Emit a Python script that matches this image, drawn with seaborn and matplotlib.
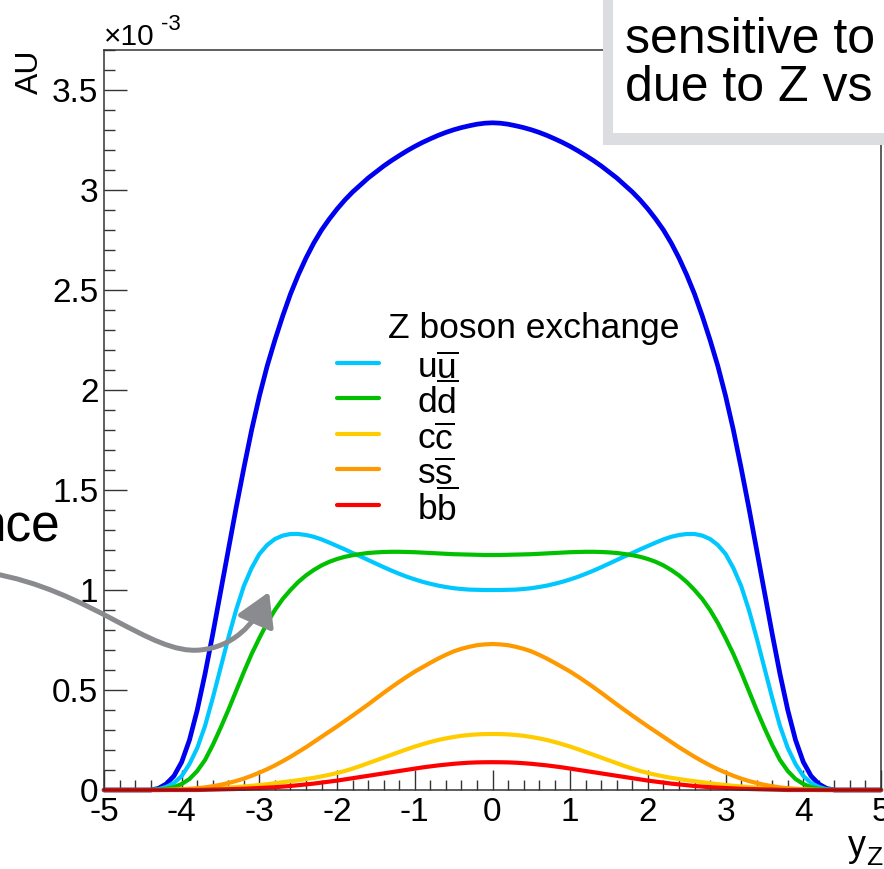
import matplotlib
matplotlib.use("Agg")
import matplotlib.pyplot as plt
import numpy as np
import pandas as pd
import seaborn as sns
from matplotlib.ticker import MultipleLocator, FuncFormatter
from matplotlib.lines import Line2D
from matplotlib.patches import Rectangle, FancyArrowPatch
from matplotlib.path import Path

# ---------------- data (values in units of 1e-3) ----------------
yz = [-5.0, -4.9, -4.8, -4.7, -4.6, -4.5, -4.4, -4.3, -4.2, -4.1,
      -4.0, -3.9, -3.8, -3.7, -3.6, -3.5, -3.4, -3.3, -3.2, -3.1,
      -3.0, -2.9, -2.8, -2.7, -2.6, -2.5, -2.4, -2.3, -2.2, -2.1,
      -2.0, -1.9, -1.8, -1.7, -1.6, -1.5, -1.4, -1.3, -1.2, -1.1,
      -1.0, -0.9, -0.8, -0.7, -0.6, -0.5, -0.4, -0.3, -0.2, -0.1,
      0.0,
      0.1, 0.2, 0.3, 0.4, 0.5, 0.6, 0.7, 0.8, 0.9, 1.0,
      1.1, 1.2, 1.3, 1.4, 1.5, 1.6, 1.7, 1.8, 1.9, 2.0,
      2.1, 2.2, 2.3, 2.4, 2.5, 2.6, 2.7, 2.8, 2.9, 3.0,
      3.1, 3.2, 3.3, 3.4, 3.5, 3.6, 3.7, 3.8, 3.9, 4.0,
      4.1, 4.2, 4.3, 4.4, 4.5, 4.6, 4.7, 4.8, 4.9, 5.0]

total = [0, 0, 0, 0, 0, 0, 0, 0.008, 0.03, 0.07,
         0.14, 0.25, 0.40, 0.58, 0.78, 0.99, 1.20, 1.41, 1.61, 1.80,
         1.97, 2.12, 2.25, 2.37, 2.48, 2.575, 2.66, 2.735, 2.80, 2.855,
         2.905, 2.95, 2.99, 3.025, 3.06, 3.09, 3.12, 3.147, 3.172, 3.196,
         3.218, 3.238, 3.256, 3.273, 3.288, 3.301, 3.312, 3.321, 3.329, 3.334,
         3.336,
         3.334, 3.329, 3.321, 3.312, 3.301, 3.288, 3.273, 3.256, 3.238, 3.218,
         3.196, 3.172, 3.147, 3.12, 3.09, 3.06, 3.025, 2.99, 2.95, 2.905,
         2.855, 2.80, 2.735, 2.66, 2.575, 2.48, 2.37, 2.25, 2.12, 1.97,
         1.80, 1.61, 1.41, 1.20, 0.99, 0.78, 0.58, 0.40, 0.25, 0.14,
         0.07, 0.03, 0.008, 0, 0, 0, 0, 0, 0, 0]

uu = [0, 0, 0, 0, 0, 0, 0, 0.004, 0.015, 0.035,
      0.07, 0.13, 0.21, 0.32, 0.46, 0.61, 0.76, 0.90, 1.02, 1.11,
      1.18, 1.225, 1.255, 1.272, 1.28, 1.28, 1.275, 1.266, 1.253, 1.237,
      1.22, 1.203, 1.185, 1.168, 1.15, 1.132, 1.114, 1.097, 1.081, 1.066,
      1.053, 1.041, 1.031, 1.022, 1.015, 1.009, 1.005, 1.002, 1.001, 1.0,
      1.0,
      1.0, 1.001, 1.002, 1.005, 1.009, 1.015, 1.022, 1.031, 1.041, 1.053,
      1.066, 1.081, 1.097, 1.114, 1.132, 1.15, 1.168, 1.185, 1.203, 1.22,
      1.237, 1.253, 1.266, 1.275, 1.28, 1.28, 1.272, 1.255, 1.225, 1.18,
      1.11, 1.02, 0.90, 0.76, 0.61, 0.46, 0.32, 0.21, 0.13, 0.07,
      0.035, 0.015, 0.004, 0, 0, 0, 0, 0, 0, 0]

dd = [0, 0, 0, 0, 0, 0, 0, 0.002, 0.006, 0.014,
      0.03, 0.055, 0.095, 0.15, 0.225, 0.31, 0.40, 0.495, 0.59, 0.68,
      0.76, 0.835, 0.90, 0.955, 1.0, 1.04, 1.073, 1.10, 1.123, 1.141,
      1.155, 1.166, 1.174, 1.18, 1.185, 1.188, 1.19, 1.191, 1.191, 1.19,
      1.189, 1.187, 1.185, 1.183, 1.181, 1.179, 1.178, 1.177, 1.176, 1.175,
      1.175,
      1.175, 1.176, 1.177, 1.178, 1.179, 1.181, 1.183, 1.185, 1.187, 1.189,
      1.19, 1.191, 1.191, 1.19, 1.188, 1.185, 1.18, 1.174, 1.166, 1.155,
      1.141, 1.123, 1.10, 1.073, 1.04, 1.0, 0.955, 0.90, 0.835, 0.76,
      0.68, 0.59, 0.495, 0.40, 0.31, 0.225, 0.15, 0.095, 0.055, 0.03,
      0.014, 0.006, 0.002, 0, 0, 0, 0, 0, 0, 0]

cc = [0, 0, 0, 0, 0, 0, 0, 0, 0, 0.001,
      0.002, 0.003, 0.004, 0.006, 0.008, 0.01, 0.012, 0.015, 0.018, 0.021,
      0.025, 0.029, 0.034, 0.039, 0.044, 0.049, 0.055, 0.061, 0.068, 0.076,
      0.085, 0.095, 0.107, 0.12, 0.134, 0.148, 0.162, 0.176, 0.19, 0.204,
      0.217, 0.229, 0.24, 0.25, 0.258, 0.265, 0.271, 0.275, 0.278, 0.2795,
      0.28,
      0.2795, 0.278, 0.275, 0.271, 0.265, 0.258, 0.25, 0.24, 0.229, 0.217,
      0.204, 0.19, 0.176, 0.162, 0.148, 0.134, 0.12, 0.107, 0.095, 0.085,
      0.076, 0.068, 0.061, 0.055, 0.049, 0.044, 0.039, 0.034, 0.029, 0.025,
      0.021, 0.018, 0.015, 0.012, 0.01, 0.008, 0.006, 0.004, 0.003, 0.002,
      0.001, 0, 0, 0, 0, 0, 0, 0, 0, 0]

ss = [0, 0, 0, 0, 0, 0, 0, 0, 0.001, 0.002,
      0.004, 0.006, 0.009, 0.013, 0.019, 0.026, 0.035, 0.045, 0.057, 0.071,
      0.087, 0.104, 0.123, 0.144, 0.166, 0.19, 0.214, 0.24, 0.266, 0.292,
      0.318, 0.345, 0.372, 0.40, 0.428, 0.457, 0.486, 0.514, 0.541, 0.567,
      0.592, 0.614, 0.636, 0.657, 0.676, 0.693, 0.706, 0.716, 0.724, 0.728,
      0.73,
      0.728, 0.724, 0.716, 0.706, 0.693, 0.676, 0.657, 0.636, 0.614, 0.592,
      0.567, 0.541, 0.514, 0.486, 0.457, 0.428, 0.40, 0.372, 0.345, 0.318,
      0.292, 0.266, 0.24, 0.214, 0.19, 0.166, 0.144, 0.123, 0.104, 0.087,
      0.071, 0.057, 0.045, 0.035, 0.026, 0.019, 0.013, 0.009, 0.006, 0.004,
      0.002, 0.001, 0, 0, 0, 0, 0, 0, 0, 0]

bb = [0, 0, 0, 0, 0, 0, 0, 0, 0, 0,
      0, 0, 0, 0.001, 0.002, 0.003, 0.004, 0.005, 0.006, 0.008,
      0.01, 0.012, 0.014, 0.017, 0.02, 0.024, 0.028, 0.032, 0.037, 0.042,
      0.047, 0.053, 0.059, 0.065, 0.071, 0.077, 0.083, 0.089, 0.095, 0.101,
      0.107, 0.113, 0.118, 0.123, 0.127, 0.131, 0.134, 0.1365, 0.138, 0.1387,
      0.139,
      0.1387, 0.138, 0.1365, 0.134, 0.131, 0.127, 0.123, 0.118, 0.113, 0.107,
      0.101, 0.095, 0.089, 0.083, 0.077, 0.071, 0.065, 0.059, 0.053, 0.047,
      0.042, 0.037, 0.032, 0.028, 0.024, 0.02, 0.017, 0.014, 0.012, 0.01,
      0.008, 0.006, 0.005, 0.004, 0.003, 0.002, 0.001, 0, 0, 0,
      0, 0, 0, 0, 0, 0, 0, 0, 0, 0]

channels = ["uu", "dd", "cc", "ss", "bb"]
channel_labels = [r"u$\overline{\mathrm{u}}$", r"d$\overline{\mathrm{d}}$",
                  r"c$\overline{\mathrm{c}}$", r"s$\overline{\mathrm{s}}$",
                  r"b$\overline{\mathrm{b}}$"]
channel_colors = ["#00c8ff", "#00c000", "#ffcc00", "#ff9900", "#ff0000"]
total_color = "#0000f0"

x_ticks = [-5, -4, -3, -2, -1, 0, 1, 2, 3, 4, 5]
y_ticks = [0, 0.5, 1, 1.5, 2, 2.5, 3, 3.5]

# ---------------- style ----------------
sns.set_style("ticks")
plt.rcParams["font.family"] = ["Liberation Sans", "DejaVu Sans"]
plt.rcParams["mathtext.fontset"] = "custom"
plt.rcParams["mathtext.rm"] = "Liberation Sans"
plt.rcParams["mathtext.it"] = "Liberation Sans:italic"
plt.rcParams["mathtext.bf"] = "Liberation Sans:bold"
plt.rcParams["axes.unicode_minus"] = False
plt.rcParams["text.color"] = "black"

W, H = 884, 869
fig = plt.figure(figsize=(W / 100, H / 100), dpi=100)
fig.patch.set_facecolor("white")


def fx(x):
    return x / W


def fy(y):
    return 1 - y / H


ax = fig.add_axes([fx(104), fy(790), (881 - 104) / W, (790 - 50) / H])
ax.set_facecolor("white")

lw = 3.0
sns.lineplot(x=yz, y=total, color=total_color, linewidth=3.4, ax=ax,
             clip_on=False, errorbar=None, legend=False)

df = pd.DataFrame({
    "yZ": yz * 5,
    "AU": uu + dd + cc + ss + bb,
    "channel": sum([[c] * len(yz) for c in channels], []),
})
sns.lineplot(data=df, x="yZ", y="AU", hue="channel", hue_order=channels,
             palette=dict(zip(channels, channel_colors)), linewidth=lw,
             ax=ax, clip_on=False, errorbar=None, legend=False)

ax.set_xlim(-5, 5)
ax.set_ylim(0, 3.7)
ax.set_xlabel("")
ax.set_ylabel("")
ax.set_xticks(x_ticks)
ax.set_yticks(y_ticks)
ax.xaxis.set_minor_locator(MultipleLocator(0.2))
ax.yaxis.set_minor_locator(MultipleLocator(0.1))
ax.xaxis.set_major_formatter(FuncFormatter(lambda v, _: f"{v:g}"))
ax.yaxis.set_major_formatter(FuncFormatter(lambda v, _: f"{v:g}"))

axis_col = "#333333"
for s in ax.spines.values():
    s.set_color(axis_col)
    s.set_linewidth(1.1)
ax.tick_params(which="both", direction="in", top=False, right=False,
               color=axis_col, width=1.0, labelsize=24, labelcolor="black")
ax.tick_params(axis="x", which="major", length=14.4, pad=5)
ax.tick_params(axis="x", which="minor", length=7.2)
ax.tick_params(axis="y", which="major", length=16.5, pad=4)
ax.tick_params(axis="y", which="minor", length=8)

# axis titles
fig.text(fx(30), fy(50), "AU", rotation=90, ha="center", va="top", fontsize=23)
fig.text(fx(866), fy(856), "y", ha="right", va="baseline", fontsize=26)
fig.text(fx(866), fy(865), "Z", ha="left", va="baseline", fontsize=19)
fig.text(fx(104), fy(45), "\u00d710", ha="left", va="baseline", fontsize=21.5)
fig.text(fx(161), fy(30), "-3", ha="left", va="baseline", fontsize=16)

# legend (header + entries)
fig.text(fx(388), fy(338), "Z boson exchange", ha="left", va="baseline", fontsize=25.5)
handle_y = [363, 398, 434, 469, 505]
for lab, col, hy in zip(channel_labels, channel_colors, handle_y):
    fig.add_artist(Line2D([fx(337), fx(379)], [fy(hy), fy(hy)], color=col,
                          linewidth=lw, transform=fig.transFigure))
    fig.text(fx(417), fy(hy + 16), lab, ha="left", va="baseline", fontsize=25.5)

# top-right annotation box (cropped)
fig.add_artist(Rectangle((fx(603), fy(145)), (W - 603) / W + 0.01, 145 / H + 0.01,
                         transform=fig.transFigure, facecolor="#dcdde0",
                         edgecolor="none", zorder=10))
fig.add_artist(Rectangle((fx(613), fy(133)), (W - 613) / W + 0.01, 133 / H + 0.01,
                         transform=fig.transFigure, facecolor="white",
                         edgecolor="none", zorder=11))
fig.text(fx(625), fy(53), "sensitive to", ha="left", va="baseline", fontsize=36,
         zorder=12)
fig.text(fx(625), fy(101), "due to Z vs", ha="left", va="baseline", fontsize=36,
         zorder=12)

# left annotation text (cropped) and arrow
fig.text(fx(60), fy(542), "nce", ha="right", va="baseline", fontsize=37, zorder=12)

pts = [(-10, 573), (90, 590), (150, 655), (200, 650),
       (232, 647), (254, 626), (269, 592)]
codes = [Path.MOVETO, Path.CURVE4, Path.CURVE4, Path.CURVE4,
         Path.CURVE4, Path.CURVE4, Path.CURVE4]
verts = [(fx(px), fy(py)) for px, py in pts]
arrow = FancyArrowPatch(path=Path(verts, codes), transform=fig.transFigure,
                        arrowstyle="-|>,head_length=1.0,head_width=0.6",
                        mutation_scale=20, color="#8a8b8f", linewidth=3.6,
                        zorder=12)
fig.add_artist(arrow)

fig.savefig("out.png", dpi=100)
